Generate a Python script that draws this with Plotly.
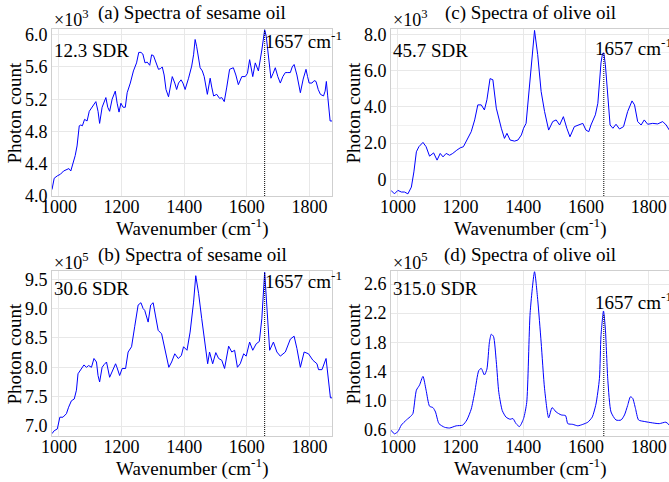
import numpy as np
import plotly.graph_objects as go

# ---------------- data ----------------
# (a) sesame oil, 12.3 SDR, photon count x10^3
wn_a = [978, 985, 995, 1005, 1015, 1025, 1032, 1038, 1045, 1052, 1058, 1065, 1070, 1075, 1082, 1090, 1097,
        1105, 1112, 1118, 1125, 1130, 1138, 1146, 1150, 1156, 1162, 1170, 1180, 1186, 1192, 1198, 1205, 1212,
        1218, 1228, 1238, 1248, 1255, 1262, 1268, 1275, 1282, 1290, 1296, 1302, 1310, 1318, 1325, 1330, 1336,
        1342, 1350, 1356, 1362, 1370, 1376, 1382, 1390, 1396, 1403, 1414, 1424, 1430, 1435, 1440, 1446, 1451,
        1458, 1464, 1474, 1483, 1488, 1494, 1504, 1513, 1520, 1528, 1536, 1545, 1557, 1565, 1573, 1584, 1595,
        1602, 1609, 1614, 1619, 1627, 1632, 1637, 1648, 1654, 1657, 1662, 1666, 1672, 1677, 1684, 1691, 1699,
        1707, 1715, 1723, 1731, 1739, 1745, 1751, 1760, 1766, 1771, 1780, 1789, 1794, 1799, 1808, 1815, 1821,
        1828, 1835, 1845, 1850, 1854, 1858, 1861, 1866, 1872]
ph_a = [4.08, 4.22, 4.25, 4.27, 4.31, 4.33, 4.34, 4.31, 4.40, 4.50, 4.62, 4.87, 4.88, 4.87, 4.95, 4.93, 5.05,
        5.10, 5.15, 5.17, 5.05, 4.90, 5.10, 5.20, 5.22, 5.10, 5.05, 5.20, 5.30, 5.15, 5.04, 5.15, 5.10, 5.10,
        5.28, 5.40, 5.55, 5.65, 5.78, 5.78, 5.76, 5.65, 5.66, 5.62, 5.75, 5.74, 5.65, 5.57, 5.58, 5.60, 5.50,
        5.32, 5.23, 5.35, 5.48, 5.40, 5.32, 5.40, 5.44, 5.40, 5.32, 5.46, 5.61, 5.75, 5.94, 5.85, 5.67, 5.59,
        5.55, 5.48, 5.26, 5.46, 5.35, 5.24, 5.26, 5.21, 5.22, 5.17, 5.35, 5.57, 5.59, 5.50, 5.38, 5.48, 5.48,
        5.52, 5.69, 5.58, 5.48, 5.65, 5.60, 5.55, 5.81, 5.98, 6.06, 5.98, 5.85, 5.60, 5.46, 5.52, 5.59, 5.48,
        5.40, 5.48, 5.53, 5.53, 5.53, 5.60, 5.63, 5.50, 5.35, 5.28, 5.45, 5.57, 5.48, 5.40, 5.40, 5.43, 5.42,
        5.32, 5.26, 5.24, 5.30, 5.42, 5.25, 5.13, 4.93, 4.93]

# (b) sesame oil, 30.6 SDR, photon count x10^5
wn_b = [978, 985, 995, 1003, 1013, 1024, 1031, 1040, 1049, 1056, 1061, 1070, 1080, 1088, 1095, 1104, 1112,
        1120, 1125, 1130, 1138, 1145, 1152, 1162, 1170, 1181, 1186, 1194, 1202, 1213, 1221, 1232, 1242, 1253,
        1262, 1269, 1274, 1285, 1293, 1301, 1308, 1317, 1328, 1336, 1344, 1351, 1360, 1370, 1381, 1391, 1398,
        1409, 1419, 1430, 1437, 1446, 1456, 1467, 1475, 1481, 1491, 1501, 1510, 1520, 1529, 1542, 1552, 1561,
        1570, 1579, 1590, 1598, 1609, 1619, 1630, 1640, 1648, 1657, 1664, 1673, 1685, 1696, 1707, 1723, 1739,
        1751, 1760, 1771, 1783, 1797, 1811, 1824, 1829, 1840, 1853, 1859, 1867, 1872]
ph_b = [6.87, 6.92, 6.95, 7.15, 7.15, 7.21, 7.32, 7.43, 7.46, 7.61, 7.89, 7.96, 8.04, 8.00, 8.03, 8.00, 8.15,
        8.09, 7.86, 7.75, 8.00, 8.05, 8.09, 7.83, 7.92, 8.06, 7.99, 7.86, 7.98, 7.98, 8.26, 8.35, 8.69, 9.06,
        9.10, 9.00, 8.97, 8.77, 9.06, 9.10, 8.89, 8.63, 8.57, 8.35, 8.15, 8.00, 8.09, 8.23, 8.15, 8.20, 8.35,
        8.29, 8.60, 9.11, 9.56, 9.26, 8.83, 8.37, 8.06, 8.26, 8.06, 8.25, 8.15, 8.12, 7.98, 8.36, 8.26, 8.29,
        8.00, 8.06, 8.23, 8.19, 8.43, 8.29, 8.40, 8.44, 8.83, 9.62, 9.06, 8.29, 8.43, 8.26, 8.19, 8.26, 8.48,
        8.53, 8.32, 8.00, 8.26, 8.23, 8.12, 8.06, 7.96, 7.96, 8.15, 7.86, 7.48, 7.48]

# (c) olive oil, 45.7 SDR, photon count x10^3
wn_c = [978, 989, 1000, 1011, 1021, 1032, 1043, 1051, 1059, 1067, 1080, 1090, 1101, 1114, 1125, 1135, 1144,
        1154, 1165, 1175, 1188, 1199, 1209, 1220, 1234, 1245, 1255, 1266, 1276, 1284, 1294, 1303, 1314, 1330,
        1340, 1348, 1358, 1372, 1383, 1394, 1401, 1409, 1422, 1436, 1446, 1457, 1468, 1481, 1494, 1505, 1516,
        1528, 1539, 1549, 1563, 1579, 1590, 1600, 1609, 1616, 1630, 1638, 1648, 1653, 1657, 1662, 1670, 1677,
        1686, 1696, 1707, 1720, 1733, 1747, 1755, 1765, 1776, 1786, 1797, 1813, 1829, 1845, 1856, 1866]
ph_c = [-0.61, -0.80, -0.61, -0.70, -0.70, -0.80, -0.43, 0.41, 1.52, 1.80, 2.04, 1.80, 1.28, 1.46, 1.06, 1.43,
        1.24, 1.43, 1.33, 1.43, 1.61, 1.74, 1.80, 2.17, 2.63, 3.28, 4.11, 4.11, 3.83, 4.39, 5.56, 5.50, 3.93,
        2.82, 2.26, 2.54, 2.17, 2.11, 2.17, 2.45, 2.82, 3.09, 5.78, 8.22, 6.89, 4.85, 3.74, 2.72, 3.19, 3.28,
        3.00, 3.46, 2.82, 2.35, 2.91, 3.00, 3.09, 2.72, 2.63, 3.00, 3.56, 4.20, 6.43, 6.95, 6.98, 6.33, 4.30,
        3.00, 2.82, 3.04, 2.78, 2.91, 3.74, 4.33, 4.11, 3.19, 3.00, 3.28, 3.04, 3.09, 3.06, 3.19, 3.00, 2.72]

# (d) olive oil, 315.0 SDR, photon count x10^5
wn_d = [978, 989, 1000, 1011, 1027, 1043, 1048, 1059, 1069, 1080, 1090, 1101, 1112, 1120, 1131, 1149, 1165,
        1186, 1207, 1220, 1234, 1245, 1258, 1266, 1276, 1284, 1292, 1298, 1305, 1314, 1322, 1333, 1345, 1358,
        1367, 1377, 1388, 1401, 1411, 1422, 1436, 1446, 1457, 1468, 1481, 1492, 1505, 1521, 1535, 1542, 1558,
        1574, 1590, 1606, 1620, 1632, 1643, 1648, 1656, 1662, 1670, 1680, 1696, 1712, 1723, 1733, 1742, 1749,
        1758, 1768, 1786, 1813, 1834, 1855, 1866]
ph_d = [0.59, 0.54, 0.57, 0.66, 0.73, 0.79, 0.82, 1.14, 1.21, 1.33, 1.14, 0.92, 0.90, 0.84, 0.68, 0.63, 0.62,
        0.65, 0.66, 0.73, 0.88, 1.11, 1.41, 1.44, 1.35, 1.43, 1.80, 1.91, 1.88, 1.53, 1.11, 0.86, 0.77, 0.74,
        0.75, 0.68, 0.64, 0.75, 0.97, 2.21, 2.77, 2.39, 1.80, 1.16, 0.76, 0.90, 0.84, 0.80, 0.79, 0.68, 0.67,
        0.65, 0.67, 0.70, 0.77, 0.95, 1.30, 1.89, 2.23, 1.98, 1.27, 0.84, 0.73, 0.73, 0.80, 0.93, 1.05, 1.03,
        0.89, 0.73, 0.71, 0.69, 0.68, 0.70, 0.66]

marker_wn = 1657
x_tick_vals = [1000, 1200, 1400, 1600, 1800]

y_ticks_a = [4.0, 4.4, 4.8, 5.2, 5.6, 6.0]
y_text_a = ["4.0", "4.4", "4.8", "5.2", "5.6", "6.0"]
y_ticks_b = [7.0, 7.5, 8.0, 8.5, 9.0, 9.5]
y_text_b = ["7.0", "7.5", "8.0", "8.5", "9.0", "9.5"]
y_ticks_c = [0, 2, 4, 6, 8]
y_text_c = ["0", "2.0", "4.0", "6.0", "8.0"]
y_ticks_d = [0.6, 1.0, 1.4, 1.8, 2.2, 2.6]
y_text_d = ["0.6", "1.0", "1.4", "1.8", "2.2", "2.6"]

titles = ["(a) Spectra of sesame oil", "(b) Spectra of sesame oil",
          "(c) Spectra of olive oil", "(d) Spectra of olive oil"]
sdr_labels = ["12.3 SDR", "30.6 SDR", "45.7 SDR", "315.0 SDR"]
scale_labels = ["×10<sup>3</sup>", "×10<sup>5</sup>", "×10<sup>3</sup>", "×10<sup>5</sup>"]

# ---------------- layout ----------------
W, H = 669, 482
FONT = "Liberation Serif"
FS = 19
TFS = 18
BLUE = "#0000ff"
GRID = "#e8e8e8"
FRAME = "#cfcfcf"


def fx(p):
    return p / W


def fy(p):
    return 1 - p / H


panels = [
    dict(wn=wn_a, ph=ph_a, yt=y_ticks_a, ytt=y_text_a, ax="", x0=52, x1=332, y0=29, y1=196,
         xr=[978, 1872], yr=[4.0, 6.07], lab_y=0.934, lab_dx=-2, spline=False, minor=None),
    dict(wn=wn_b, ph=ph_b, yt=y_ticks_b, ytt=y_text_b, ax="3", x0=52, x1=332, y0=271, y1=436,
         xr=[978, 1872], yr=[6.83, 9.64], lab_y=0.945, lab_dx=-2, spline=False, minor=None),
    dict(wn=wn_c, ph=ph_c, yt=y_ticks_c, ytt=y_text_c, ax="2", x0=391, x1=669, y0=29, y1=196,
         xr=[978, 1865], yr=[-0.92, 8.3], lab_y=0.892, lab_dx=-11, spline=False, minor=1),
    dict(wn=wn_d, ph=ph_d, yt=y_ticks_d, ytt=y_text_d, ax="4", x0=391, x1=669, y0=271, y1=436,
         xr=[978, 1865], yr=[0.51, 2.78], lab_y=0.818, lab_dx=-11, spline=True, minor=None),
]

fig = go.Figure()
layout = dict(width=W, height=H, margin=dict(l=0, r=0, t=0, b=0, pad=0), autosize=False,
              paper_bgcolor="white", plot_bgcolor="white", showlegend=False,
              font=dict(family=FONT, size=FS, color="black"))
annotations = []

for i, p in enumerate(panels):
    ax = p["ax"]
    xname, yname = "x" + ax, "y" + ax
    line = dict(color=BLUE, width=1)
    if p["spline"]:
        line.update(shape="spline", smoothing=0.6)
    fig.add_trace(go.Scatter(x=p["wn"], y=p["ph"], mode="lines", line=line,
                             xaxis=xname, yaxis=yname, hoverinfo="skip"))
    peak_val = float(np.interp(marker_wn, p["wn"], p["ph"]))
    fig.add_trace(go.Scatter(x=[marker_wn, marker_wn], y=[p["yr"][0], peak_val], mode="lines",
                             line=dict(color="black", width=1, dash="1px,1px"),
                             xaxis=xname, yaxis=yname, hoverinfo="skip"))

    xa = dict(domain=[fx(p["x0"]), fx(p["x1"])], range=p["xr"], anchor=yname, automargin=False,
              tickvals=x_tick_vals, showgrid=True, gridcolor=GRID, gridwidth=1,
              showline=True, linecolor=FRAME, linewidth=1, mirror=True, ticks="", ticklen=0,
              ticklabelstandoff=-6,
              zeroline=False, tickfont=dict(family=FONT, size=TFS))
    ya = dict(domain=[fy(p["y1"]), fy(p["y0"])], range=p["yr"], anchor=xname, automargin=False,
              tickvals=p["yt"], ticktext=p["ytt"], showgrid=True, gridcolor=GRID, gridwidth=1,
              showline=True, linecolor=FRAME, linewidth=1, mirror=True, ticks="", ticklen=0,
              zeroline=False, tickfont=dict(family=FONT, size=TFS))
    if p["minor"]:
        ya["minor"] = dict(dtick=p["minor"], tick0=0, showgrid=True, gridcolor="#f1f1f1")
    layout["xaxis" + ax] = xa
    layout["yaxis" + ax] = ya

    xc = (p["x0"] + p["x1"]) / 2
    yc = (p["y0"] + p["y1"]) / 2
    annotations.append(dict(text=titles[i], x=fx(xc), y=fy(p["y0"] - 16), xref="paper", yref="paper",
                            xanchor="center", yanchor="middle", showarrow=False,
                            font=dict(family=FONT, size=FS)))
    annotations.append(dict(text=scale_labels[i], x=fx(p["x0"]), y=fy(p["y0"] - 10), xref="paper",
                            yref="paper", xanchor="left", yanchor="middle", showarrow=False,
                            font=dict(family=FONT, size=FS - 1)))
    annotations.append(dict(text=sdr_labels[i], x=fx(p["x0"]), y=(0.874 if p["y0"] < 100 else 0.895),
                            xref="paper", yref=yname + " domain", xanchor="left", yanchor="middle",
                            showarrow=False, font=dict(family=FONT, size=FS)))
    annotations.append(dict(text="%d cm<sup>-1</sup>" % marker_wn, x=marker_wn, y=p["lab_y"],
                            xref=xname, yref=yname + " domain", xanchor="left", yanchor="middle",
                            xshift=p["lab_dx"], showarrow=False, font=dict(family=FONT, size=FS)))
    annotations.append(dict(text="Wavenumber (cm<sup>-1</sup>)", x=fx(xc), y=fy(p["y1"] + 31),
                            xref="paper", yref="paper", xanchor="center", yanchor="middle",
                            showarrow=False, font=dict(family=FONT, size=FS)))
    annotations.append(dict(text="Photon count", x=fx(p["x0"] - 38), y=fy(yc), xref="paper",
                            yref="paper", xanchor="center", yanchor="middle", textangle=-90,
                            showarrow=False, font=dict(family=FONT, size=FS)))

layout["annotations"] = annotations
fig.update_layout(**layout)
fig.write_html("out.html", config={"displayModeBar": False},
               post_script="document.body.style.margin='0px';document.body.style.overflow='hidden';")
